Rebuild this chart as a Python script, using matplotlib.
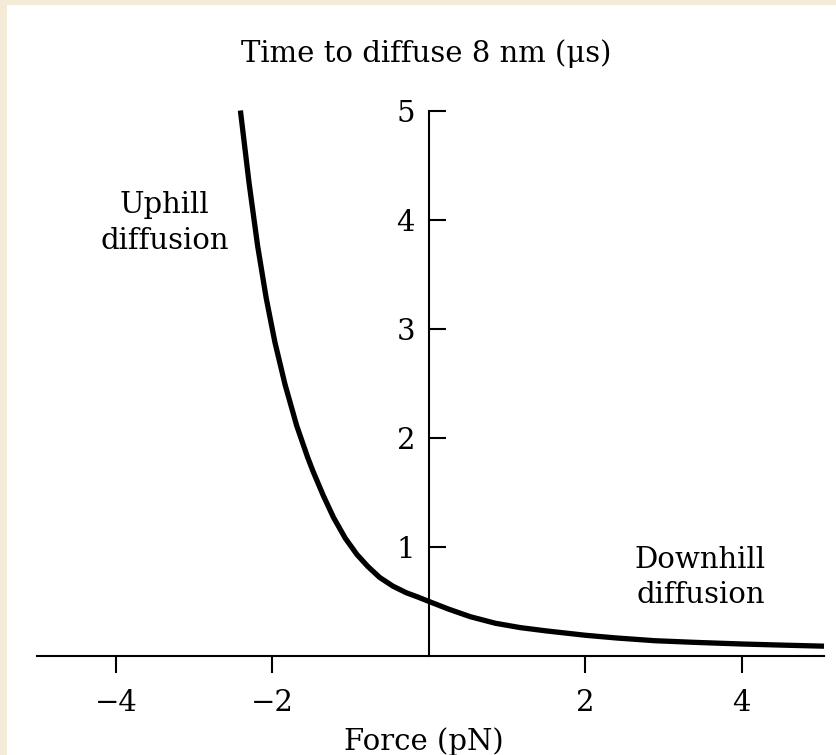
import matplotlib
matplotlib.use("Agg")
import matplotlib.pyplot as plt
from matplotlib.patches import Rectangle

# Values
force = [-2.41, -2.30, -2.19, -2.08, -1.97, -1.84, -1.69, -1.55, -1.48, -1.35,
         -1.22, -1.07, -0.92, -0.78, -0.63, -0.46, -0.29, -0.14, 0.00, 0.25,
         0.53, 0.85, 1.17, 1.50, 2.00, 2.40, 2.89, 3.40, 4.00, 4.50, 5.05]
time_us = [5.00, 4.34, 3.76, 3.28, 2.88, 2.49, 2.11, 1.82, 1.69, 1.47,
           1.27, 1.08, 0.93, 0.82, 0.72, 0.64, 0.58, 0.54, 0.50, 0.43,
           0.36, 0.30, 0.26, 0.23, 0.19, 0.165, 0.14, 0.125, 0.11, 0.10, 0.09]

x_ticks = [-4, -2, 2, 4]
y_ticks = [1, 2, 3, 4, 5]

plt.rcParams["font.family"] = ["DejaVu Serif"]
FS = 21

W, H = 836, 755
fig = plt.figure(figsize=(W / 100, H / 100), dpi=100, facecolor="#f3ebd7")

# white panel with a thin cream strip on the left and top
fig.patches.append(Rectangle((7 / W, 0), 1, 1 - 5 / H, transform=fig.transFigure,
                             facecolor="white", edgecolor="none", zorder=-10))

ax = fig.add_axes([37 / W, 99 / H, 787 / W, 545.5 / H])
ax.set_zorder(1)
ax.set_facecolor("none")
ax.set_xlim(-5.01, 5.05)
ax.set_ylim(0, 5)

# axes crossing at the origin
ax.spines["top"].set_visible(False)
ax.spines["right"].set_visible(False)
ax.spines["left"].set_position(("data", 0))
ax.spines["left"].set_bounds(0, 5)
for s in ("left", "bottom"):
    ax.spines[s].set_linewidth(1.5)

ax.set_xticks(x_ticks)
ax.set_yticks(y_ticks)
ax.set_xticklabels(["\u2212" + str(-t) if t < 0 else str(t) for t in x_ticks])
ax.tick_params(axis="x", direction="out", length=12, width=1.5, pad=12, labelsize=FS)
ax.tick_params(axis="y", direction="in", length=12, width=1.5, pad=10, labelsize=FS)

ax.plot(force, time_us, color="black", linewidth=3.8, clip_on=False,
        solid_capstyle="butt", solid_joinstyle="round")

# labels
fig.text(426 / W, 1 - 62 / H, "Time to diffuse 8 nm (\u03bcs)", ha="center",
         va="baseline", fontsize=FS)
fig.text(424 / W, 1 - 750 / H, "Force (pN)", ha="center", va="baseline", fontsize=FS)

ax.text(-3.38, 4.06, "Uphill", ha="center", va="baseline", fontsize=FS)
ax.text(-3.38, 3.73, "diffusion", ha="center", va="baseline", fontsize=FS)
ax.text(3.47, 0.81, "Downhill", ha="center", va="baseline", fontsize=FS)
ax.text(3.47, 0.49, "diffusion", ha="center", va="baseline", fontsize=FS)

fig.savefig("out.png", dpi=100, facecolor=fig.get_facecolor())
